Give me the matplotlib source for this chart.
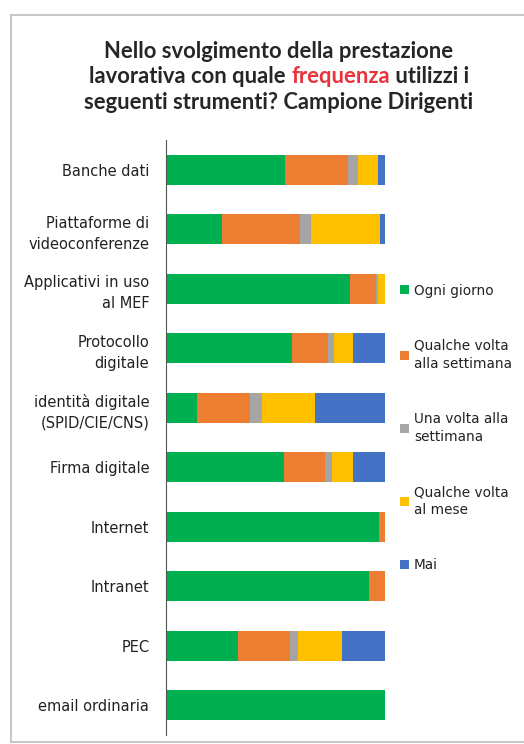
import numpy as np
import matplotlib.pyplot as plt
from matplotlib.offsetbox import TextArea, HPacker, VPacker, AnnotationBbox
from matplotlib.lines import Line2D

plt.rcParams['font.family'] = ['DejaVu Sans']

# Dati (percentuali)
strumenti = ['Banche dati', 'Piattaforme di\nvideoconferenze', 'Applicativi in uso\nal MEF',
             'Protocollo\ndigitale', 'identità digitale\n(SPID/CIE/CNS)', 'Firma digitale',
             'Internet', 'Intranet', 'PEC', 'email ordinaria']
ogni_giorno = [54.3, 25.6, 84.0, 57.5, 14.2, 53.9, 97.3, 92.7, 32.9, 100.0]
qualche_volta_sett = [28.8, 35.6, 12.0, 16.4, 24.2, 18.7, 2.7, 7.3, 23.7, 0.0]
una_volta_sett = [4.6, 5.0, 1.0, 2.7, 5.5, 3.2, 0.0, 0.0, 3.7, 0.0]
qualche_volta_mese = [9.1, 31.5, 3.0, 8.7, 24.2, 9.6, 0.0, 0.0, 20.0, 0.0]
mai = [3.2, 2.3, 0.0, 14.6, 31.9, 14.6, 0.0, 0.0, 19.7, 0.0]

serie = [ogni_giorno, qualche_volta_sett, una_volta_sett, qualche_volta_mese, mai]
etichette = ['Ogni giorno', 'Qualche volta\nalla settimana', 'Una volta alla\nsettimana',
             'Qualche volta\nal mese', 'Mai']
colori = ['#00B050', '#ED7D31', '#A5A5A5', '#FFC000', '#4472C4']

fig = plt.figure(figsize=(5.24, 7.44), dpi=100)
ax = fig.add_axes([166/524, 1 - 735/744, (385-166)/524, (735-140)/744])

y = np.arange(len(strumenti))
left = np.zeros(len(strumenti))
handles = []
for valori, col in zip(serie, colori):
    valori = np.array(valori)
    b = ax.barh(y, valori, left=left, height=0.5, color=col)
    handles.append(b)
    left += valori

ax.set_ylim(len(strumenti) - 0.5, -0.5)
ax.set_xlim(0, 100)
ax.set_yticks(y)
ax.set_yticklabels(strumenti, fontsize=10.5, color='#222222', ha='right', linespacing=1.5)
ax.tick_params(axis='y', length=0, pad=12)
ax.set_xticks([])
for s in ['top', 'right', 'bottom']:
    ax.spines[s].set_visible(False)
ax.spines['left'].set_color('#555555')
ax.spines['left'].set_linewidth(0.8)

# Legenda
leg = fig.legend(handles, etichette, loc='center left', bbox_to_anchor=(395/524, 1 - 428/744),
                 frameon=False, fontsize=9.8, handlelength=0.65, handleheight=0.65,
                 handletextpad=0.35, labelspacing=3.0, borderaxespad=0)
for t in leg.get_texts():
    t.set_linespacing(1.4)
    t.set_color('#222222')

# Titolo con la parola "frequenza" in rosso
stile = dict(fontsize=15.8, fontweight='bold', color='#262626', family='Lato')
riga1 = HPacker(children=[TextArea('Nello svolgimento della prestazione', textprops=stile)], pad=0, sep=0)
riga2 = HPacker(children=[TextArea('lavorativa con quale ', textprops=stile),
                          TextArea('frequenza', textprops=dict(stile, color='#E8323C')),
                          TextArea(' utilizzi i', textprops=stile)], pad=0, sep=0)
riga3 = HPacker(children=[TextArea('seguenti strumenti? Campione Dirigenti', textprops=stile)], pad=0, sep=0)
titolo = VPacker(children=[riga1, riga2, riga3], align='center', pad=0, sep=3)
fig.add_artist(AnnotationBbox(titolo, (279/524, 1 - 77/744), xycoords='figure fraction',
                              frameon=False, box_alignment=(0.5, 0.5)))

# Cornice
bordo = '#C8C8C8'
fig.add_artist(Line2D([11/524, 11/524], [1 - 742/744, 1 - 15/744], color=bordo, lw=1.5))
fig.add_artist(Line2D([11/524, 1], [1 - 15/744, 1 - 15/744], color=bordo, lw=1.5))
fig.add_artist(Line2D([11/524, 1], [1 - 742/744, 1 - 742/744], color=bordo, lw=1.5))

plt.savefig('out.png', dpi=100)
